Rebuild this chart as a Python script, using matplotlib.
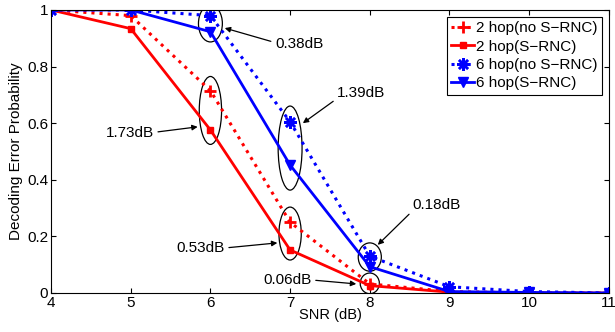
import numpy as np
import matplotlib
matplotlib.use('Agg')
import matplotlib.pyplot as plt
from matplotlib.patches import Ellipse

plt.rcParams['font.family'] = ['Liberation Sans', 'DejaVu Sans']

snr = [4, 5, 6, 7, 8, 9, 10, 11]
hop2_no_srnc = [1.0, 0.98, 0.715, 0.25, 0.032, 0.005, 0.0, 0.0]
hop2_srnc = [1.0, 0.934, 0.576, 0.152, 0.026, 0.003, 0.0, 0.0]
hop6_no_srnc = [1.0, 1.0, 0.98, 0.605, 0.13, 0.022, 0.005, 0.0]
hop6_srnc = [1.0, 1.0, 0.923, 0.452, 0.093, 0.005, 0.002, 0.0]

labels = ['2 hop(no S\u2212RNC)', '2 hop(S\u2212RNC)', '6 hop(no S\u2212RNC)', '6 hop(S\u2212RNC)']

# ellipses: (x, y, width, height)
ellipses = [(6, 0.952, 0.3, 0.13), (6, 0.645, 0.28, 0.24), (7, 0.512, 0.3, 0.297),
            (7, 0.21, 0.28, 0.187), (8, 0.127, 0.29, 0.1), (8, 0.034, 0.24, 0.073)]

# annotations: text, text anchor, arrow tip, horizontal alignment, arrow start on text
notes = [('0.38dB', (6.81, 0.88), (6.18, 0.936), 'left', (0, 0.6)),
         ('1.39dB', (7.59, 0.707), (7.16, 0.60), 'left', (0, 0.1)),
         ('0.18dB', (8.54, 0.311), (8.10, 0.17), 'left', (0, 0.1)),
         ('1.73dB', (5.29, 0.565), (5.84, 0.587), 'right', (1, 0.55)),
         ('0.53dB', (6.18, 0.159), (6.84, 0.177), 'right', (1, 0.5)),
         ('0.06dB', (7.27, 0.046), (7.83, 0.032), 'right', (1, 0.5))]

fig = plt.figure(figsize=(6.15, 3.32), dpi=100)
ax = fig.add_axes([0.083, 0.1175, 0.907, 0.8525])

ax.plot(snr, hop2_no_srnc, color='red', linestyle=':', linewidth=2.2, marker='+',
        markersize=9, markeredgewidth=2, label=labels[0])
ax.plot(snr, hop2_srnc, color='red', linestyle='-', linewidth=2, marker='s',
        markersize=5, label=labels[1])
ax.plot(snr, hop6_no_srnc, color='blue', linestyle=':', linewidth=2.2, marker=(8, 2, 0),
        markersize=9, markeredgewidth=1.8, label=labels[2])
ax.plot(snr, hop6_srnc, color='blue', linestyle='-', linewidth=2, marker='v',
        markersize=7, label=labels[3])

for x, y, w, h in ellipses:
    ax.add_patch(Ellipse((x, y), w, h, fill=False, edgecolor='black', linewidth=0.9))

for txt, tpos, tip, ha, rp in notes:
    ax.annotate(txt, xy=tip, xytext=tpos, fontsize=11, ha=ha, va='center',
                arrowprops=dict(arrowstyle='-|>', color='black', linewidth=0.9,
                                mutation_scale=8, shrinkA=1, shrinkB=0, relpos=rp))

ax.set_xlim(4, 11)
ax.set_ylim(0, 1)
ax.set_xticks(snr)
ax.set_yticks([0, 0.2, 0.4, 0.6, 0.8, 1])
ax.set_yticklabels(['0', '0.2', '0.4', '0.6', '0.8', '1'])
ax.tick_params(direction='in', top=True, right=True, labelsize=11, pad=2)
ax.set_xlabel('SNR (dB)', fontsize=10.5, labelpad=-1)
ax.set_ylabel('Decoding Error Probability', fontsize=11, labelpad=3)

leg = ax.legend(loc='upper right', fontsize=11, fancybox=False, framealpha=1,
                edgecolor='black', handlelength=1.5, handletextpad=0.1,
                borderpad=0.3, labelspacing=0.28, borderaxespad=0.45)
leg.get_frame().set_linewidth(0.8)

fig.savefig('out.png', dpi=100)
